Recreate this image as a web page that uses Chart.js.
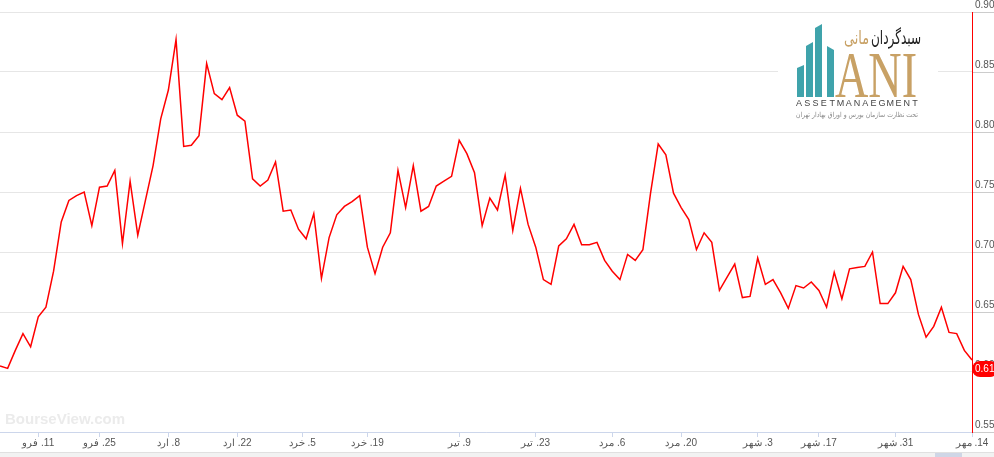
<!DOCTYPE html>
<html>
<head>
<meta charset="utf-8">
<title>Price chart</title>
<script src="https://cdn.jsdelivr.net/npm/chart.js@4.4.1/dist/chart.umd.min.js"></script>
<style>
    html, body { margin: 0; padding: 0; background: #fff; }
    #wrap { width: 994px; height: 457px; }
    canvas { direction: rtl; }
</style>
</head>
<body>
<div id="wrap"><canvas id="priceChart" width="994" height="457"></canvas></div>
<script>
// Daily closing prices (trading days only, ordinal axis)
const PRICES = [
    0.605, 0.603, 0.618, 0.632, 0.621, 0.646, 0.654, 0.684, 0.725, 0.743,
    0.747, 0.750, 0.722, 0.754, 0.755, 0.768, 0.707, 0.759, 0.714, 0.743,
    0.772, 0.811, 0.835, 0.877, 0.788, 0.789, 0.797, 0.857, 0.832, 0.827,
    0.837, 0.814, 0.809, 0.761, 0.755, 0.760, 0.775, 0.734, 0.735, 0.719,
    0.711, 0.732, 0.678, 0.712, 0.731, 0.738, 0.742, 0.747, 0.704, 0.682,
    0.704, 0.716, 0.768, 0.737, 0.772, 0.734, 0.738, 0.755, 0.759, 0.763,
    0.793, 0.782, 0.766, 0.722, 0.745, 0.735, 0.764, 0.718, 0.753, 0.723,
    0.704, 0.677, 0.673, 0.705, 0.711, 0.723, 0.706, 0.706, 0.708, 0.693,
    0.684, 0.677, 0.698, 0.693, 0.702, 0.749, 0.790, 0.781, 0.749, 0.737,
    0.727, 0.702, 0.716, 0.708, 0.668, 0.679, 0.690, 0.662, 0.663, 0.695,
    0.673, 0.677, 0.666, 0.653, 0.672, 0.670, 0.675, 0.668, 0.654, 0.683,
    0.661, 0.686, 0.687, 0.688, 0.700, 0.657, 0.657, 0.666, 0.688, 0.677,
    0.648, 0.629, 0.638, 0.654, 0.633, 0.632, 0.618, 0.610
];

// Date ticks (position in trading-day index) and their labels
const TICK_POS = [5, 13, 22, 31, 39.5, 48, 60, 70, 80, 89, 99, 107, 117, 127];
const TICK_LABELS = [
    '11. فرو', '25. فرو', '8. ارد', '22. ارد', '5. خرد', '19. خرد', '9. تیر',
    '23. تیر', '6. مرد', '20. مرد', '3. شهر', '17. شهر', '31. شهر', '14. مهر'
];

const Y_MIN = 0.55;
const Y_MAX = 0.90;
const Y_STEP = 0.05;

const RED = '#ff0000';
const TEAL = '#3fa3ab';
const GOLD = '#c8a165';

// Logo, watermark, price badge and navigator strip
const decorPlugin = {
    id: 'decor',
    beforeDraw(chart) {
        const ctx = chart.ctx;
        ctx.save();
        ctx.fillStyle = '#fff';
        ctx.fillRect(0, 0, chart.width, chart.height);
        ctx.restore();
    },
    beforeDatasetsDraw(chart) {
        const ctx = chart.ctx;
        ctx.save();
        // watermark
        ctx.fillStyle = '#ebebeb';
        ctx.font = 'bold 15px "Liberation Sans"';
        ctx.textAlign = 'left';
        ctx.textBaseline = 'alphabetic';
        ctx.direction = 'ltr';
        ctx.fillText('BourseView.com', 5, 424);
        drawLogo(ctx);
        ctx.restore();
    },
    afterDraw(chart) {
        const ctx = chart.ctx;
        const area = chart.chartArea;
        const yScale = chart.scales.y;
        ctx.save();

        // short marks under the y labels
        ctx.strokeStyle = '#cccccc';
        ctx.lineWidth = 1;
        yScale.ticks.forEach(t => {
            const py = Math.round(yScale.getPixelForValue(t.value)) + 0.5;
            ctx.beginPath();
            ctx.moveTo(area.right + 1, py);
            ctx.lineTo(chart.width, py);
            ctx.stroke();
        });

        // last price badge
        const last = PRICES[PRICES.length - 1];
        const py = yScale.getPixelForValue(last);
        ctx.fillStyle = RED;
        ctx.beginPath();
        ctx.roundRect(area.right, py + 1, 26, 16, 8);
        ctx.fill();
        ctx.fillStyle = '#fff';
        ctx.font = '10px "Liberation Sans"';
        ctx.textAlign = 'left';
        ctx.textBaseline = 'middle';
        ctx.direction = 'ltr';
        ctx.fillText(last.toFixed(2), area.right + 3, py + 9.5);

        // navigator strip at the bottom
        ctx.fillStyle = '#f2f2f2';
        ctx.fillRect(0, 452, chart.width, 5);
        ctx.strokeStyle = '#e0e0e0';
        ctx.beginPath();
        ctx.moveTo(0, 452.5);
        ctx.lineTo(chart.width, 452.5);
        ctx.stroke();
        ctx.fillStyle = 'rgba(102, 133, 194, 0.25)';
        ctx.fillRect(935, 453, 27, 4);
        ctx.restore();
    }
};

function drawLogo(ctx) {
    ctx.fillStyle = '#fff';
    ctx.fillRect(778, 18, 160, 107);

    // teal bars forming the "M"
    const bars = [
        [797, 68, 804, 65],
        [806, 46, 813, 42],
        [815, 28, 822, 24],
        [827, 46, 834, 50]
    ];
    ctx.fillStyle = TEAL;
    bars.forEach(([x1, y1, x2, y2]) => {
        ctx.beginPath();
        ctx.moveTo(x1, y1);
        ctx.lineTo(x2, y2);
        ctx.lineTo(x2, 97);
        ctx.lineTo(x1, 97);
        ctx.closePath();
        ctx.fill();
    });

    // ANI
    ctx.fillStyle = GOLD;
    ctx.font = '66px "Liberation Serif"';
    ctx.textAlign = 'left';
    ctx.textBaseline = 'alphabetic';
    ctx.direction = 'ltr';
    ctx.fillText('ANI', 835, 97, 82);

    // Persian name
    ctx.font = '19px "DejaVu Sans"';
    ctx.direction = 'rtl';
    ctx.textAlign = 'right';
    ctx.fillStyle = '#222';
    ctx.fillText('سبدگردان', 921, 44, 50);
    ctx.fillStyle = GOLD;
    ctx.fillText('مانی', 869, 44, 25);

    // ASSETMANAEGMENT, letter by letter
    const word = 'ASSETMANAEGMENT';
    ctx.direction = 'ltr';
    ctx.textAlign = 'center';
    ctx.fillStyle = '#444';
    ctx.font = '9px "Liberation Sans"';
    for (let i = 0; i < word.length; i++) {
        ctx.fillText(word[i], 799 + i * 8.29, 106);
    }

    // supervision line
    ctx.direction = 'rtl';
    ctx.fillStyle = '#888';
    ctx.font = '7px "DejaVu Sans"';
    ctx.fillText('تحت نظارت سازمان بورس و اوراق بهادار تهران', 857, 117, 122);
}

const ctx = document.getElementById('priceChart');

new Chart(ctx, {
    type: 'line',
    data: {
        datasets: [{
            label: 'Price',
            data: PRICES.map((v, i) => ({ x: i, y: v })),
            borderColor: RED,
            borderWidth: 1.5,
            pointRadius: 0,
            tension: 0,
            fill: false
        }]
    },
    options: {
        responsive: false,
        animation: false,
        layout: { padding: { top: 12, left: 0, right: 0, bottom: 0 } },
        plugins: {
            legend: { display: false },
            tooltip: { enabled: false }
        },
        scales: {
            x: {
                type: 'linear',
                min: 0,
                max: PRICES.length - 1,
                afterBuildTicks: scale => {
                    scale.ticks = TICK_POS.map(v => ({ value: v }));
                },
                afterFit: scale => { scale.height = 25; },
                ticks: {
                    autoSkip: false,
                    maxRotation: 0,
                    padding: 0,
                    color: '#555',
                    font: { family: '"Liberation Sans"', size: 10 },
                    callback: value => TICK_LABELS[TICK_POS.indexOf(value)]
                },
                grid: {
                    drawOnChartArea: false,
                    tickLength: 5,
                    tickColor: '#ccd6eb'
                },
                border: { color: '#ccd6eb' }
            },
            y: {
                position: 'right',
                min: Y_MIN,
                max: Y_MAX,
                afterFit: scale => { scale.width = 22; },
                ticks: {
                    stepSize: Y_STEP,
                    padding: 3,
                    labelOffset: -7,
                    color: '#555',
                    font: { family: '"Liberation Sans"', size: 10 },
                    callback: value => value.toFixed(2)
                },
                grid: {
                    color: '#e6e6e6',
                    drawTicks: false
                },
                border: { color: RED, width: 1 }
            }
        }
    },
    plugins: [decorPlugin]
});
</script>
</body>
</html>
